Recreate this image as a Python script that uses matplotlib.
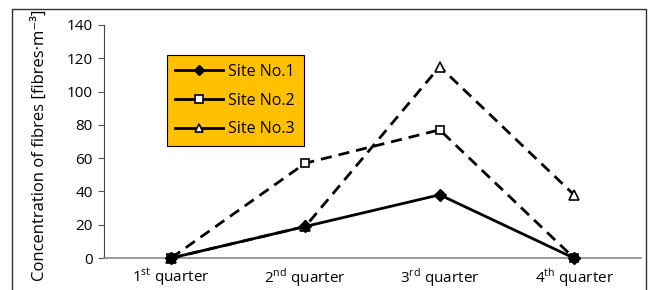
import matplotlib
matplotlib.use("Agg")
from matplotlib import pyplot as plt
from matplotlib.lines import Line2D

plt.rcParams['font.family'] = ['Open Sans', 'DejaVu Sans']
plt.rcParams['mathtext.fontset'] = 'custom'
plt.rcParams['mathtext.rm'] = 'Open Sans'

quarters = ['1$^{\\mathrm{st}}$ quarter', '2$^{\\mathrm{nd}}$ quarter',
            '3$^{\\mathrm{rd}}$ quarter', '4$^{\\mathrm{th}}$ quarter']
site1 = [0, 19, 38, 0]
site2 = [0, 57, 77, 0]
site3 = [0, 19, 115, 38]
names = ['Site No.1', 'Site No.2', 'Site No.3']

fig = plt.figure(figsize=(6.49, 2.90), dpi=100)
ax = fig.add_axes([0.160, 0.110, 0.828, 0.804])

dash = (0, (4, 2.5))
xs = range(len(quarters))
ax.plot(xs, site1, color='black', lw=2, marker='D', ms=6,
        mfc='black', mec='black', clip_on=False, zorder=5)
ax.plot(xs, site2, color='black', lw=2, ls=dash, marker='s', ms=6,
        mfc='white', mec='black', mew=1.2, clip_on=False, zorder=4)
ax.plot(xs, site3, color='black', lw=2, ls=dash, marker='^', ms=7,
        mfc='white', mec='black', mew=1.2, clip_on=False, zorder=3)

ax.set_xlim(-0.5, 3.5)
ax.set_ylim(0, 140)
ax.set_yticks(range(0, 141, 20))
ax.set_xticks(list(xs))
ax.set_xticklabels(quarters, fontsize=11)
ax.tick_params(axis='y', labelsize=11, length=4, direction='out', color='#555555', pad=4)
ax.tick_params(axis='x', length=0, pad=6)
ax.spines['top'].set_visible(False)
ax.spines['right'].set_visible(False)
ax.spines['left'].set_color('#444444')
ax.spines['bottom'].set_color('#888888')
ax.spines['bottom'].set_linewidth(1.2)
ax.set_ylabel('Concentration of fibres [fibres·m⁻³]', fontsize=12)
ax.yaxis.set_label_coords(-0.105, 0.485)

# legend shows solid lines for every site
handles = [
    Line2D([], [], color='black', lw=2, marker='D', ms=5, mfc='black', mec='black'),
    Line2D([], [], color='black', lw=2, marker='s', ms=6, mfc='white', mec='black', mew=1.2),
    Line2D([], [], color='black', lw=2, marker='^', ms=6, mfc='white', mec='black', mew=1.2),
]
leg = ax.legend(handles, names, loc='upper left', bbox_to_anchor=(0.117, 0.871),
                borderaxespad=0, fontsize=11.5, frameon=True, fancybox=False,
                handlelength=3.0, labelspacing=0.8, borderpad=0.55, handletextpad=0.3)
leg.get_frame().set_facecolor('#FFC000')
leg.get_frame().set_edgecolor('black')
leg.get_frame().set_alpha(1)
leg.get_frame().set_linewidth(0.8)

# outer frame (open at bottom)
fx0, fx1, fy1 = 12 / 649, 646 / 649, 1 - 9 / 290
fig.add_artist(Line2D([fx0, fx0, fx1, fx1], [0, fy1, fy1, 0],
                      transform=fig.transFigure, color='#333333', lw=1))

fig.savefig('out.png', dpi=100)
